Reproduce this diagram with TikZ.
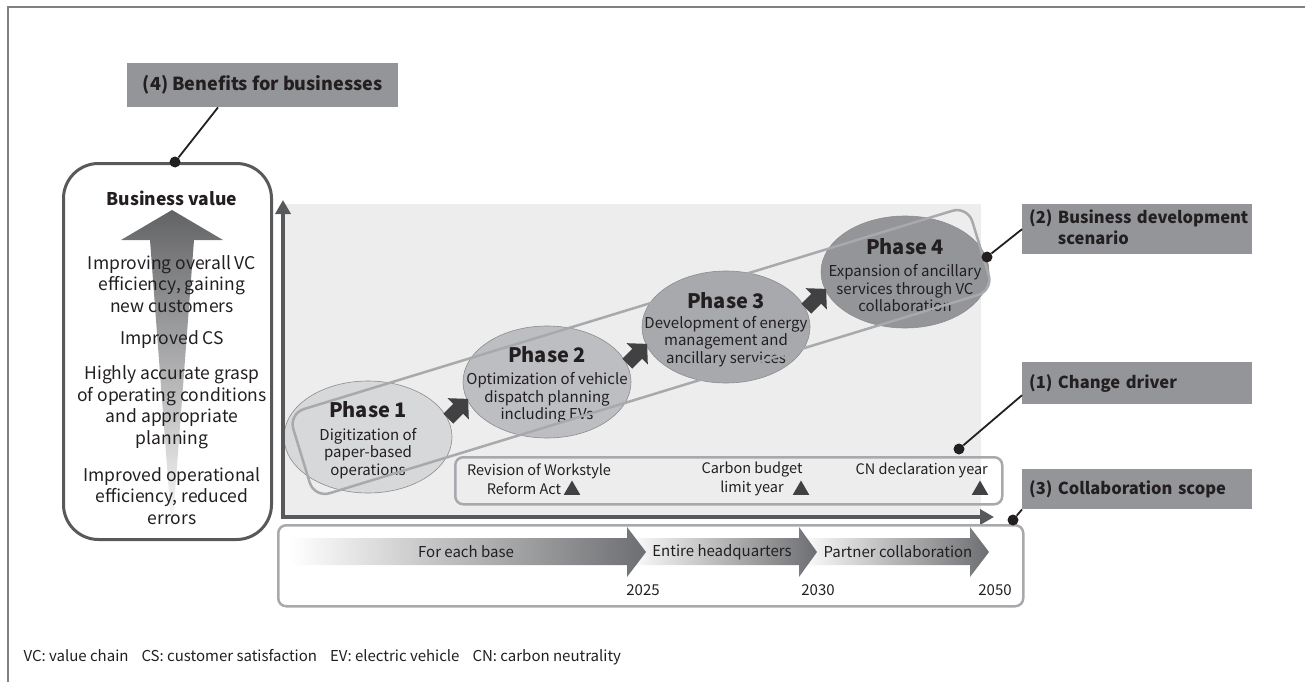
\documentclass[tikz,border=0pt]{standalone}
\usepackage{fontspec}
\setmainfont{Noto Sans CJK JP}
\usetikzlibrary{positioning, calc, shapes.geometric, arrows.meta}

\definecolor{ink}{HTML}{231F20}
\definecolor{tagfill}{HTML}{939598}
\definecolor{axisgray}{HTML}{58595B}
\definecolor{softframe}{HTML}{A7A9AC}
\definecolor{chartbg}{HTML}{EDEDEE}
\definecolor{stepgray}{HTML}{414042}
\definecolor{fadegray}{HTML}{6D6E71}
\definecolor{phaseA}{HTML}{D7D8DA}
\definecolor{phaseB}{HTML}{BDBEC1}
\definecolor{phaseC}{HTML}{A7A9AC}
\definecolor{phaseD}{HTML}{939598}

\newcommand{\bodyfont}{\fontsize{17.5}{21.5}\selectfont}
\newcommand{\smallfont}{\fontsize{15}{17.5}\selectfont}
\newcommand{\phasetitle}[1]{{\fontsize{20}{22}\selectfont\bfseries #1}}

\tikzset{
  tagbase/.style={fill=tagfill, text=ink, anchor=north west, inner ysep=0pt},
  tag/.style={tagbase, align=left, font=\bfseries\fontsize{16.5}{21}\selectfont,
    inner xsep=7pt, text width=216pt},
  pindot/.style={circle, fill=ink, inner sep=0pt, minimum size=11pt},
  pinline/.style={draw=ink, line width=1.8pt},
  phase/.style={ellipse, fill=#1, draw=gray!90, line width=0.6pt,
    minimum width=168pt, minimum height=112pt, inner sep=0pt},
  phasetext/.style={align=center, text=ink, font=\smallfont, inner sep=0pt,
    yshift=-3pt},
  softbox/.style={draw=softframe, line width=2.5pt, rounded corners=8pt,
    anchor=north west, inner sep=0pt},
  valuetext/.style={align=center, text=ink, font=\bodyfont},
  eventtext/.style={align=center, text=ink, font=\fontsize{14.5}{19}\selectfont},
  scopetext/.style={align=center, text=ink, font=\fontsize{15}{19}\selectfont},
  milestone/.style={regular polygon, regular polygon sides=3, fill=stepgray,
    inner sep=0pt, minimum size=19pt},
  axisline/.style={draw=axisgray, line width=4pt,
    {Triangle[length=14pt,width=15pt]}-{Triangle[length=14pt,width=15pt]}}
}

\begin{document}
\begin{tikzpicture}[x=1pt, y=-1pt, node distance=50pt, on grid]
\useasboundingbox (0,0) rectangle (1305,682);
\draw[gray, line width=1.5pt] (8,682) -- (8,7) -- (1305,7);

% chart area
\fill[chartbg] (285,204) rectangle (981,517);
\node[softbox, minimum width=547pt, minimum height=47pt] (driver) at (454,456) {};
\node[eventtext] (ev1) at (539,479) {Revision of Workstyle\\Reform Act\hspace*{30pt}};
\node[eventtext] (ev2) at (752,479) {Carbon budget\\limit year};
\node[eventtext, anchor=west] (ev3) at (852,470) {CN declaration year};
\node[milestone] (m1) at (572,490) {};
\node[milestone] (m2) at (801,490) {};
\node[milestone] (m3) at (980,490) {};

% phases
\node[phase=phaseA, label={[phasetext, name=t1]center:{\phasetitle{Phase 1}\\[5pt]Digitization of\\paper-based\\operations}}] (p1) at (368,437) {};
\node[phase=phaseB, above right=55pt and 179pt of p1, label={[phasetext, name=t2]center:{\phasetitle{Phase 2}\\[5pt]Optimization of vehicle\\dispatch planning\\including EVs}}] (p2) {};
\node[phase=phaseC, above right=55pt and 179pt of p2, label={[phasetext, name=t3]center:{\phasetitle{Phase 3}\\[2pt]Development of energy\\management and\\ancillary services}}] (p3) {};
\node[phase=phaseD, above right=55pt and 179pt of p3, label={[phasetext, name=t4]center:{\phasetitle{Phase 4}\\[5pt]Expansion of ancillary\\services through VC\\collaboration}}] (p4) {};
\coordinate (s12) at ($(p1)!0.5!(p2)$);
\coordinate (s23) at ($(p2)!0.5!(p3)$);
\coordinate (s34) at ($(p3)!0.5!(p4)$);
\foreach \s in {s12, s23, s34}
  \fill[stepgray, shift={(\s)}, rotate=45] (-13,-7) -- (1,-7) -- (1,-15) -- (15,0) -- (1,15) -- (1,7) -- (-13,7) -- cycle;
\node[draw=softframe, line width=2.5pt, rounded corners=16pt, rotate=17,
  minimum width=710pt, minimum height=88pt] (scenario) at (641,352) {};

% axes
\coordinate (origin) at (283,517);
\coordinate (ytip) at (283,200);
\coordinate (xtip) at (994,517);
\draw[axisline] (ytip) -- (origin) -- (xtip);

% collaboration scope
\node[softbox, minimum width=745pt, minimum height=81pt] (scope) at (277,524) {};
\shade[left color=white, right color=fadegray] (799,538) -- (970,538) -- (970,527) -- (989,552) -- (970,577) -- (970,565) -- (799,565) -- cycle;
\shade[left color=white, right color=fadegray] (627,538) -- (799,538) -- (799,527) -- (817,552) -- (799,577) -- (799,565) -- (627,565) -- cycle;
\shade[left color=white, right color=fadegray] (290,538) -- (627,538) -- (627,527) -- (646,552) -- (627,577) -- (627,565) -- (290,565) -- cycle;
\node[scopetext] (c1) at (466,552) {For each base};
\node[scopetext] (c2) at (722,552) {Entire headquarters};
\node[scopetext] (c3) at (898,552) {Partner collaboration};
\node[scopetext] (y1) at (643,590) {2025};
\node[scopetext] (y2) at (818,590) {2030};
\node[scopetext] (y3) at (995,590) {2050};

% business value
\node[draw=axisgray, line width=3pt, rounded corners=35pt,
  minimum width=208pt, minimum height=376pt] (valuebox) at (167.5,351.5) {};
\shade[top color=fadegray!90!black, bottom color=white] (172,210) -- (223,240) -- (194,240) -- (172,533) -- (150,240) -- (121,240) -- cycle;
\node[text=ink, font=\bfseries\bodyfont] (bv) at (172,198) {Business value};
\node[valuetext] (v4) at (172,284) {Improving overall VC\\efficiency, gaining\\new customers};
\node[valuetext] (v3) at (172,340) {Improved CS};
\node[valuetext] (v2) at (172,407) {Highly accurate grasp\\of operating conditions\\and appropriate\\planning};
\node[valuetext] (v1) at (172,496) {Improved operational\\efficiency, reduced\\errors};

% tags and pins
\node[tagbase, font=\bfseries\fontsize{18}{22}\selectfont, minimum width=271pt,
  minimum height=44pt] (tag4) at (127,63) {(4) Benefits for businesses};
\node[tag, minimum height=50pt] (tag2) at (1022,204) {\mbox{(2) Business development}\\\phantom{(2) }scenario};
\node[tag, minimum height=42pt] (tag1) at (1022,362) {(1) Change driver};
\node[tag, minimum height=40pt] (tag3) at (1022,469) {\mbox{(3) Collaboration scope}};
\node[pindot] (d4) at (175,162) {};
\node[pindot] (d2) at (987,257) {};
\node[pindot] (d1) at (959,449) {};
\node[pindot] (d3) at (1013,520) {};
\draw[pinline] ([xshift=91pt]tag4.south west) -- (d4);
\draw[pinline] (tag2.west) -- (d2);
\draw[pinline] ([yshift=-12pt]tag1.west) -- (d1);
\draw[pinline] (tag3.south west) -- (d3);

\node[anchor=west, text=ink, font=\fontsize{15}{17}\selectfont] (notes) at (20,657)
  {VC: value chain\hspace{13pt}CS: customer satisfaction\hspace{13pt}EV: electric vehicle\hspace{13pt}CN: carbon neutrality};
\end{tikzpicture}
\end{document}
